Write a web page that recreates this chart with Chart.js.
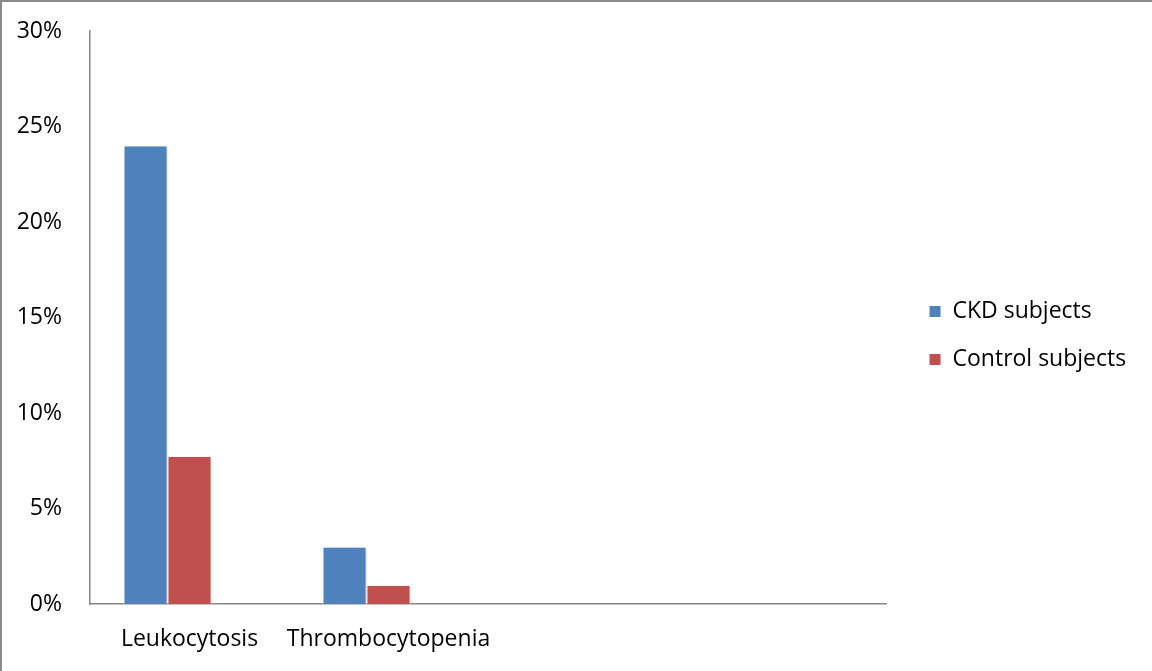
<!DOCTYPE html>
<html>
<head>
<meta charset="utf-8">
<script src="https://cdn.jsdelivr.net/npm/chart.js@4.4.1/dist/chart.umd.min.js"></script>
<style>
    html, body { margin: 0; padding: 0; background: #fff; }
    .wrap { position: relative; width: 1152px; height: 671px; }
    .wrap::after { content: ''; position: absolute; left: 0; top: 0; right: 0; bottom: 0;
        border-top: 2px solid #8a8a8a; border-left: 2px solid #8a8a8a; pointer-events: none; }
</style>
</head>
<body>
<div class="wrap"><canvas id="chart"></canvas></div>
<script>
    // categories (Excel left two empty slots on the axis)
    const categories = ['Leukocytosis', 'Thrombocytopenia', '', ''];
    const ckdValues = [24, 3, null, null];
    const controlValues = [7.75, 1.0, null, null];
    const emptySeries = [null, null, null, null]; // third, empty series in the source
    const yTicks = [0, 5, 10, 15, 20, 25, 30];

    const FONT = { family: '"Open Sans", sans-serif', size: 23 };
    const AXIS = '#868686';
    const LEGEND_W = 266;     // space to the right of the plot
    const LEGEND_INSET = 43;  // plot edge -> legend swatch

    const barShadow = {
        id: 'barShadow',
        beforeDatasetsDraw(chart) {
            const c = chart.ctx;
            c.save();
            c.shadowColor = 'rgba(0,0,0,0.22)';
            c.shadowBlur = 4;
            c.shadowOffsetX = 1;
            c.shadowOffsetY = 1;
        },
        afterDatasetsDraw(chart) { chart.ctx.restore(); }
    };

    // legend sits next to the plot, centred on the whole canvas height
    const legendPlace = {
        id: 'legendPlace',
        afterLayout(chart) {
            const lg = chart.legend;
            if (!lg) return;
            const pad = lg.options.labels.padding;
            lg.left = chart.chartArea.right + LEGEND_INSET - pad;
            lg.top = 0;
            lg.bottom = chart.height;
        }
    };

    const chart = new Chart(document.getElementById('chart'), {
        type: 'bar',
        data: {
            labels: categories,
            datasets: [
                { label: 'CKD subjects', data: ckdValues, backgroundColor: '#4F81BD' },
                { label: 'Control subjects', data: controlValues, backgroundColor: '#C0504D' },
                { label: '', data: emptySeries, backgroundColor: '#9BBB59' }
            ]
        },
        options: {
            responsive: true,
            maintainAspectRatio: false,
            animation: false,
            datasets: {
                bar: { borderColor: '#ffffff', borderWidth: 1, barPercentage: 1, categoryPercentage: 0.663 }
            },
            layout: { padding: { left: 17, top: 31, right: 0, bottom: 0 } },
            plugins: {
                legend: {
                    position: 'right',
                    labels: {
                        font: FONT, color: '#000', boxWidth: 12, boxHeight: 12, padding: 25,
                        filter: item => item.text !== ''
                    }
                },
                tooltip: { enabled: false }
            },
            scales: {
                x: {
                    grid: { display: false, drawTicks: false },
                    border: { color: AXIS, width: 1.5 },
                    afterFit: s => { s.height = 67; },
                    ticks: { font: FONT, color: '#000', padding: 22, maxRotation: 0, autoSkip: false }
                },
                y: {
                    min: 0, max: 30,
                    afterBuildTicks: s => { s.ticks = yTicks.map(v => ({ value: v })); },
                    afterFit: s => { s.width = 73; s.paddingTop = 0; s.paddingBottom = 0; },
                    grid: { display: false, drawTicks: false },
                    border: { color: AXIS, width: 1.5 },
                    ticks: { font: FONT, color: '#000', padding: 28, callback: v => v + '%' }
                }
            }
        },
        plugins: [barShadow, legendPlace]
    });

    // fix the legend column width so the plot ends where the original does
    const lgd = chart.legend;
    const fit0 = lgd.fit;
    lgd.fit = function () { fit0.call(this); this.width = LEGEND_W; };
    chart.update();
</script>
</body>
</html>
